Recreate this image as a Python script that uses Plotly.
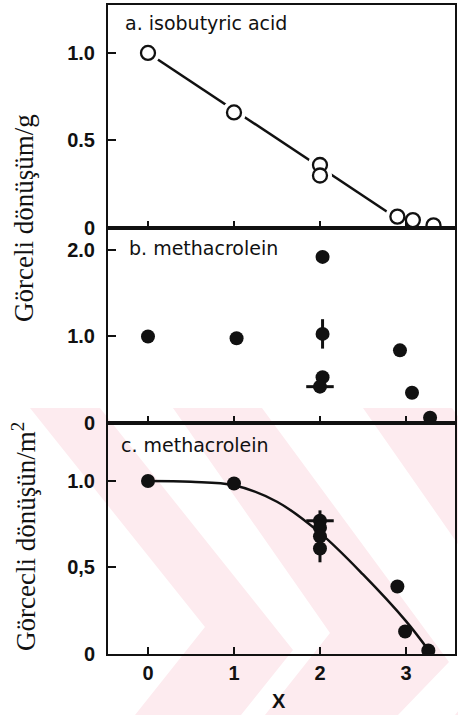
import plotly.graph_objects as go
from plotly.subplots import make_subplots

# ---------------- data ----------------
# panel a: isobutyric acid (open circles)
a_x = [0, 1.0, 2.0, 2.0, 2.9, 3.08, 3.32]
a_y = [1.0, 0.66, 0.36, 0.30, 0.065, 0.045, 0.015]
a_fit_x = [0, 1, 2, 2.85]
a_fit_y = [1.0, 0.674, 0.348, 0.07]

# panel b: methacrolein (filled circles)
b_x = [0, 1.03, 2.03, 2.03, 2.03, 2.0, 2.93, 3.07, 3.28]
b_y = [1.0, 0.98, 1.92, 1.03, 0.53, 0.42, 0.84, 0.35, 0.06]
b_err_y = [0, 0, 0, 0.17, 0, 0, 0, 0, 0]
b_err_x = [0, 0, 0, 0, 0, 0.16, 0, 0, 0]

# panel c: methacrolein per m2 (filled circles)
c_x = [0, 1.0, 2.0, 2.0, 2.0, 2.0, 2.9, 2.99, 3.26]
c_y = [1.0, 0.985, 0.77, 0.73, 0.68, 0.61, 0.39, 0.13, 0.02]
c_err_y = [0, 0, 0, 0, 0.15, 0, 0, 0, 0]
c_err_x = [0, 0, 0.16, 0, 0, 0, 0, 0, 0]
c_fit_x = [0, 0.5, 1.0, 1.5, 2.0, 2.5, 3.0, 3.25]
c_fit_y = [1.0, 0.995, 0.975, 0.88, 0.70, 0.46, 0.19, 0.03]

x_ticks = [0, 1, 2, 3]
x_ticktext = ["0", "1", "2", "3"]
a_ticks = [0, 0.5, 1.0]
a_ticktext = ["0", "0.5", "1.0"]
b_ticks = [0, 1.0, 2.0]
b_ticktext = ["0", "1.0", "2.0"]
c_ticks = [0, 0.5, 1.0]
c_ticktext = ["0", "0,5", "1.0"]

panel_labels = ["a. isobutyric acid", "b. methacrolein", "c. methacrolein"]
ylabel_top = "Görceli dönüşüm/g"
ylabel_bottom = "Görcecli dönüşün/m<sup>2</sup>"
xlabel = "X"

# ---------------- layout geometry ----------------
W, H = 458, 715
L, R, T, B = 108, 3, 5, 61
PW, PH = W - L - R, H - T - B


def px(x):
    return (x - L) / PW


def py(y):
    return 1 - (y - T) / PH


fig = make_subplots(rows=3, cols=1, shared_xaxes=True, vertical_spacing=0,
                    row_heights=[223, 195, 231])

BLACK = "#111111"

# panel a
fig.add_trace(go.Scatter(x=a_fit_x, y=a_fit_y, mode="lines",
                         line=dict(color=BLACK, width=2.5), hoverinfo="skip"), row=1, col=1)
fig.add_trace(go.Scatter(x=a_x, y=a_y, mode="markers",
                         marker=dict(size=24, color="white", line=dict(width=0))), row=1, col=1)
fig.add_trace(go.Scatter(x=a_x, y=a_y, mode="markers",
                         marker=dict(size=14, color="white", symbol="circle",
                                     line=dict(color=BLACK, width=2.3))), row=1, col=1)

# panel b
fig.add_trace(go.Scatter(x=b_x, y=b_y, mode="markers",
                         marker=dict(size=14, color=BLACK),
                         error_y=dict(type="data", array=b_err_y, visible=True,
                                      color=BLACK, thickness=3, width=0),
                         error_x=dict(type="data", array=b_err_x, visible=True,
                                      color=BLACK, thickness=3, width=0)), row=2, col=1)

# panel c
fig.add_trace(go.Scatter(x=c_fit_x, y=c_fit_y, mode="lines",
                         line=dict(color=BLACK, width=2.5, shape="spline"),
                         hoverinfo="skip"), row=3, col=1)
fig.add_trace(go.Scatter(x=c_x, y=c_y, mode="markers",
                         marker=dict(size=14, color=BLACK),
                         error_y=dict(type="data", array=c_err_y, visible=True,
                                      color=BLACK, thickness=3, width=0),
                         error_x=dict(type="data", array=c_err_x, visible=True,
                                      color=BLACK, thickness=3, width=0)), row=3, col=1)

tickfont = dict(family="Liberation Sans", size=20, color=BLACK, weight="bold")
for r in (1, 2, 3):
    fig.update_xaxes(row=r, col=1, range=[-0.465, 3.57], tickvals=x_ticks,
                     ticktext=x_ticktext, ticks="inside", ticklen=7, tickwidth=2,
                     tickcolor=BLACK, showline=True, linewidth=2, linecolor=BLACK,
                     mirror=True, showgrid=False, zeroline=False,
                     showticklabels=(r == 3), tickfont=tickfont,
                     ticklabelstandoff=0, automargin=False)
fig.update_yaxes(row=1, col=1, range=[0, 1.274], tickvals=a_ticks, ticktext=a_ticktext)
fig.update_yaxes(row=2, col=1, range=[0, 2.254], tickvals=b_ticks, ticktext=b_ticktext)
fig.update_yaxes(row=3, col=1, range=[0, 1.335], tickvals=c_ticks, ticktext=c_ticktext)
fig.update_yaxes(ticks="inside", ticklen=8, tickwidth=2, tickcolor=BLACK,
                 showline=True, linewidth=2, linecolor=BLACK, mirror=True,
                 showgrid=False, zeroline=False, tickfont=tickfont,
                 ticklabelstandoff=7, automargin=False)

# watermark (faint pink chevrons of the scanned page)
PINK = "#fdebef"
chevrons = [
    [(30, 408), (100, 408), (293, 650), (241, 715), (135, 715), (205, 627)],
    [(173, 408), (262, 408), (449, 662), (398, 715), (265, 715), (330, 633)],
    [(363, 408), (452, 408), (639, 662), (588, 715), (455, 715), (520, 633)],
]
shapes = []
for ch in chevrons:
    path = "M " + " L ".join(f"{px(x):.4f},{py(y):.4f}" for x, y in ch) + " Z"
    shapes.append(dict(type="path", xref="paper", yref="paper", path=path,
                       fillcolor=PINK, line=dict(width=0), layer="below"))

annotations = []
lab_pos = [(123, 23), (127, 248), (119, 445)]
for txt, (x, y) in zip(panel_labels, lab_pos):
    annotations.append(dict(text=txt, xref="paper", yref="paper", x=px(x), y=py(y),
                            xanchor="left", yanchor="middle", showarrow=False,
                            font=dict(family="DejaVu Sans", size=19, color=BLACK)))
annotations.append(dict(text=ylabel_top, xref="paper", yref="paper", x=px(24), y=py(218),
                        xanchor="center", yanchor="middle", textangle=-90, showarrow=False,
                        font=dict(family="Liberation Serif", size=27, color=BLACK)))
annotations.append(dict(text=ylabel_bottom, xref="paper", yref="paper", x=px(24), y=py(537),
                        xanchor="center", yanchor="middle", textangle=-90, showarrow=False,
                        font=dict(family="Liberation Serif", size=27, color=BLACK)))
annotations.append(dict(text=xlabel, xref="paper", yref="paper", x=px(279), y=py(701),
                        xanchor="center", yanchor="middle", showarrow=False,
                        font=dict(family="Liberation Sans", size=20, color=BLACK, weight="bold")))

fig.update_layout(width=W, height=H, margin=dict(l=L, r=R, t=T, b=B, autoexpand=False),
                  paper_bgcolor="white", plot_bgcolor="rgba(0,0,0,0)",
                  showlegend=False, shapes=shapes, annotations=annotations)

fig.write_html("out.html", config={"displayModeBar": False},
               post_script="document.body.style.margin='0';document.body.style.overflow='hidden';")
